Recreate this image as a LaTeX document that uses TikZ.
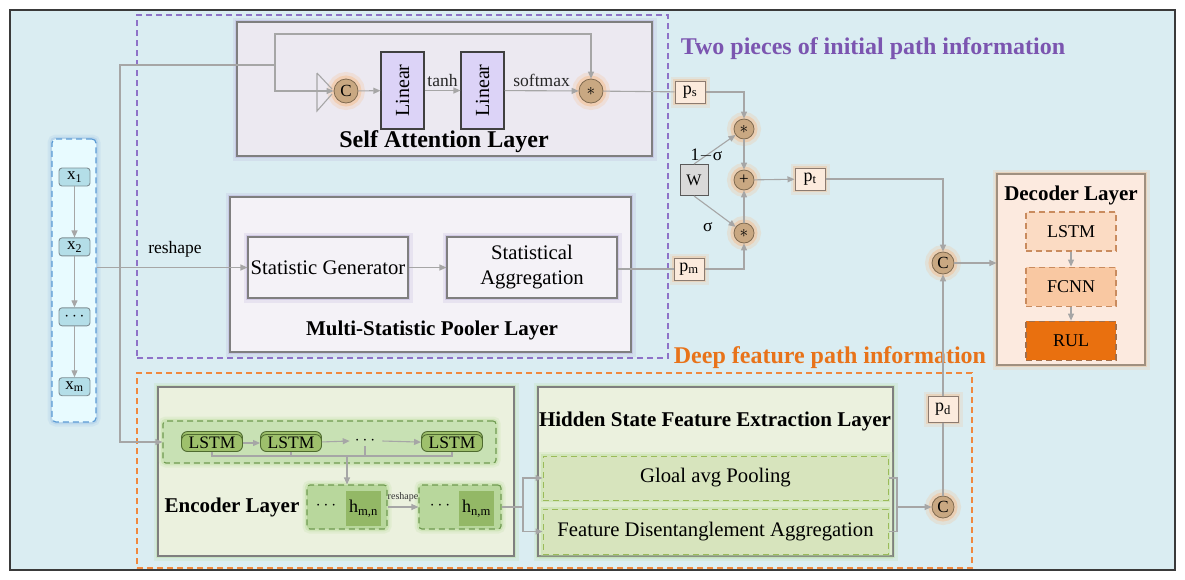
\documentclass[tikz,border=0pt]{standalone}
\usepackage{fontspec}
\setmainfont{Liberation Serif}
\usepackage{graphicx}
\usepackage{xcolor}
\usepackage{tikz}
\usetikzlibrary{arrows.meta,positioning,calc,shadows}

\definecolor{bgblue}{HTML}{DAEDF2}
\definecolor{framegray}{HTML}{3A3A3A}
\definecolor{linegray}{HTML}{A6A6A6}
\definecolor{boxgray}{HTML}{7F7F7F}
\definecolor{grppurple}{HTML}{8E72C8}
\definecolor{grporange}{HTML}{F0883E}
\definecolor{txtpurple}{HTML}{7B55B0}
\definecolor{txtorange}{HTML}{E8731A}
\definecolor{safill}{HTML}{ECE9F1}
\definecolor{saglow}{HTML}{B4A8D8}
\definecolor{poolfill}{HTML}{F4F2F7}
\definecolor{linfill}{HTML}{DCD3F7}
\definecolor{opfill}{HTML}{C9A882}
\definecolor{opborder}{HTML}{7F6A50}
\definecolor{opglow}{HTML}{F5BF90}
\definecolor{pfill}{HTML}{FCEBDD}
\definecolor{pborder}{HTML}{8C7B70}
\definecolor{wfill}{HTML}{D9D9D9}
\definecolor{decfill}{HTML}{FCEADF}
\definecolor{decborder}{HTML}{A09080}
\definecolor{dlstmfill}{HTML}{FBDBC3}
\definecolor{fcnnfill}{HTML}{F9C8A2}
\definecolor{rulfill}{HTML}{E9700F}
\definecolor{decdash}{HTML}{C98B5E}
\definecolor{infill}{HTML}{E8FBFF}
\definecolor{indash}{HTML}{5B9BD5}
\definecolor{xfill}{HTML}{B4DEE8}
\definecolor{xborder}{HTML}{7F8F95}
\definecolor{encfill}{HTML}{EBF1DE}
\definecolor{encglow}{HTML}{B8DC98}
\definecolor{grpfill}{HTML}{C8E1B4}
\definecolor{grpdash}{HTML}{6F9A50}
\definecolor{cellfill}{HTML}{9EC06C}
\definecolor{cellborder}{HTML}{4F6B30}
\definecolor{hfill}{HTML}{B8D79C}
\definecolor{hinner}{HTML}{93B866}
\definecolor{gapfill}{HTML}{D7E4BD}
\definecolor{gapdash}{HTML}{9BBB59}

\begin{document}
\begin{tikzpicture}[x=1pt, y=-1pt,
    >={Triangle[length=7pt,width=6pt]},
    arrow/.style={->, line width=1.1pt, draw=linegray},
    link/.style={line width=1.1pt, draw=linegray},
    glow/.style={preaction={draw=#1, solid, line width=9pt, draw opacity=0.2},
                 preaction={draw=#1, solid, line width=4.5pt, draw opacity=0.4}},
    halo/.style={preaction={draw=#1, solid, line width=14pt, draw opacity=0.25},
                 preaction={draw=#1, solid, line width=7pt, draw opacity=0.5}},
    layer/.style={draw=boxgray, line width=1.1pt, inner sep=0pt},
    grpbox/.style={draw=#1, line width=1.3pt, dash pattern=on 6pt off 4pt, inner sep=0pt},
    bigtitle/.style={font=\fontsize{24}{28}\selectfont\bfseries},
    title/.style={font=\fontsize{21}{24}\selectfont\bfseries},
    label/.style={font=\fontsize{17.5}{20}\selectfont},
    linbox/.style={draw=black!75, fill=linfill, line width=1.1pt,
                   minimum width=43pt, minimum height=77pt, inner sep=0pt,
                   font=\fontsize{20}{22}\selectfont},
    opc/.style={circle, draw=opborder, fill=opfill, halo=opglow, line width=0.8pt,
                minimum size=22pt, inner sep=0pt, font=\fontsize{17}{18}\selectfont},
    pbox/.style={draw=pborder, fill=pfill, glow=opglow, line width=1pt,
                 minimum width=30pt, minimum height=22pt, inner sep=0pt,
                 font=\fontsize{18}{20}\selectfont},
    statbox/.style={draw=boxgray, fill=poolfill, glow=saglow, line width=1.1pt,
                    minimum height=61pt, inner sep=0pt, align=center,
                    font=\fontsize{20.7}{25}\selectfont},
    xnode/.style={draw=xborder, fill=xfill, rounded corners=3pt, line width=0.9pt,
                  minimum width=31pt, minimum height=18pt, inner sep=0pt,
                  font=\fontsize{17}{18}\selectfont},
    decbox/.style={draw=decdash, line width=1.1pt, dash pattern=on 6pt off 4pt,
                   minimum width=90pt, minimum height=39pt, inner sep=0pt,
                   font=\fontsize{18}{20}\selectfont},
    cell/.style={draw=cellborder, fill=cellfill, rounded corners=6pt, line width=0.9pt,
                 minimum width=61pt, minimum height=17pt, inner sep=0pt,
                 copy shadow={shadow xshift=0pt, shadow yshift=3pt},
                 font=\fontsize{17.5}{18}\selectfont},
    hgroup/.style={draw=grpdash, fill=hfill, glow=encglow, rounded corners=3pt,
                   line width=1.1pt, dash pattern=on 6pt off 4pt,
                   minimum height=44pt, inner sep=0pt},
    hcell/.style={fill=hinner, minimum width=35pt, minimum height=35pt, inner sep=0pt,
                  font=\fontsize{18}{20}\selectfont},
    gapbox/.style={draw=gapdash, fill=gapfill, glow=encglow, line width=1pt,
                   dash pattern=on 6pt off 4pt, minimum width=345pt, minimum height=44pt,
                   inner sep=0pt, font=\fontsize{20.7}{24}\selectfont}
]
\useasboundingbox (0,0) rectangle (1185,579);

% frame and the two path groups
\node[draw=framegray, fill=bgblue, line width=1.5pt, minimum width=1165pt,
      minimum height=560pt, inner sep=0pt] (bg) at (592.5,290) {};
\node[grpbox=grppurple, minimum width=531pt, minimum height=343pt] (initgrp) at (402.5,186.5) {};
\node[grpbox=grporange, minimum width=835pt, minimum height=195pt] (deepgrp) at (554.5,470.5) {};
\node[bigtitle, text=txtpurple] (inittitle) at (873,49) {Two pieces of initial path information};
\node[bigtitle, text=txtorange] (deeptitle) at (830,358) {Deep feature path information};

% input sequence
\node[draw=indash, fill=infill, glow=indash!60, rounded corners=4pt, line width=1.2pt,
      dash pattern=on 6pt off 4pt, minimum width=44pt, minimum height=283pt] (input) at (74,280.5) {};
\node[xnode] (x1) at (74.5,177) {x\textsubscript{1}};
\node[xnode, below=51pt of x1] (x2) {x\textsubscript{2}};
\node[xnode, below=51pt of x2] (xdots) {$\cdots$};
\node[xnode, below=51pt of xdots] (xm) {x\textsubscript{m}};
\draw[arrow] (x1) -- (x2);
\draw[arrow] (x2) -- (xdots);
\draw[arrow] (xdots) -- (xm);

% self attention layer
\node[layer, fill=safill, glow=saglow, minimum width=415pt, minimum height=134pt] (salayer) at (444.5,89) {};
\node[bigtitle] (satitle) at (444,142) {Self Attention Layer};
\node[opc, minimum size=24pt] (cat) at (346,91) {C};
\node[linbox] (lin1) at (402.5,90.5) {\rotatebox{90}{Linear}};
\node[linbox] (lin2) at (482.5,90.5) {\rotatebox{90}{Linear}};
\node[opc, minimum size=24pt] (att) at (591,91) {$\ast$};
\coordinate (split) at (120,267);
\coordinate (fork) at (275,65);

\draw[link] ($(cat)+(-29,-18)$) -- ($(cat)+(-29,20)$) -- ($(cat)+(-14,3)$)
            ($(cat)+(-29,-18)$) -- ($(cat)+(-14,-2)$);
\draw[link] (split) |- (fork);
\draw[arrow] (fork) |- (cat.west);
\draw[arrow] (fork) -- (275,34) -| (att.north);
\draw[arrow] (cat) -- (lin1);
\draw[arrow] (lin1) -- node[label, above, text=black!85] {tanh} (lin2);
\draw[arrow] (lin2) -- node[label, above, text=black!85] {softmax} (att);

% multi-statistic pooler layer
\node[layer, fill=poolfill, glow=saglow, minimum width=401pt, minimum height=155pt] (pooler) at (430.5,274.5) {};
\node[statbox, minimum width=160pt] (statgen) at (328,267.5) {Statistic Generator};
\node[statbox, minimum width=170pt] (statagg) at (532,267.5) {Statistical\\Aggregation};
\node[title] (pooltitle) at (432,330) {Multi-Statistic Pooler Layer};
\draw[arrow] (input.east |- statgen) -- node[label, pos=0.52, above=6pt] {reshape} (statgen);
\draw[arrow] (statgen) -- (statagg);

% fusion of the two paths
\node[pbox] (ps) at (690,92) {p\textsubscript{s}};
\node[pbox] (pm) at (689,269) {p\textsubscript{m}};
\node[pbox] (pt) at (810,179) {p\textsubscript{t}};
\node[draw=black!65, fill=wfill, line width=1pt, minimum width=28pt, minimum height=31pt,
      inner sep=0pt, font=\fontsize{16}{18}\selectfont] (w) at (694,180) {W};
\node[opc, minimum size=20pt] (mul1) at (744,129) {$\ast$};
\node[opc, minimum size=20pt] (add) at (744,180) {+};
\node[opc, minimum size=20pt] (mul2) at (744,233) {$\ast$};
\draw[link] (att) -- (ps);
\draw[link] (statagg.east |- pm) -- (pm);
\draw[arrow] (ps.east) -| (mul1.north);
\draw[arrow] (pm.east) -| (mul2.south);
\draw[arrow] (w.north) -- node[label, pos=0.3] {1$-$σ} (mul1);
\draw[arrow] (w.south) -- node[label, pos=0.45, below=9pt, xshift=-5pt] {σ} (mul2);
\draw[arrow] (mul1) -- (add);
\draw[arrow] (mul2) -- (add);
\draw[arrow] (add) -- (pt);

% decoder layer
\node[layer, draw=decborder, fill=decfill, glow=opglow, minimum width=148pt, minimum height=191pt] (decoder) at (1071,269.5) {};
\node[title] (dectitle) at (1071,195) {Decoder Layer};
\node[decbox, fill=dlstmfill] (dlstm) at (1071,231.5) {LSTM};
\node[decbox, fill=fcnnfill, below=15pt of dlstm] (fcnn) {FCNN};
\node[decbox, fill=rulfill, draw=decdash!80!black, below=14pt of fcnn] (rul) {RUL};
\draw[arrow] (dlstm) -- (fcnn);
\draw[arrow] (fcnn) -- (rul);

\node[opc] (cup) at (943,263) {C};
\node[opc] (cdown) at (943,507) {C};
\node[pbox, minimum height=26pt] (pd) at (943,409) {p\textsubscript{d}};
\draw[arrow] (pt.east) -| (cup.north);
\draw[arrow] (pd) -- (cup);
\draw[link] (cdown) -- (pd);
\draw[arrow] (cup) -- (cup -| decoder.west);

% encoder layer
\node[layer, fill=encfill, glow=encglow, minimum width=356pt, minimum height=169pt] (encoder) at (336,471.5) {};
\node[title] (enctitle) at (232,507) {Encoder Layer};
\node[draw=grpdash, fill=grpfill, glow=encglow, rounded corners=3pt, line width=1.1pt,
      dash pattern=on 6pt off 4pt, minimum width=333pt, minimum height=42pt] (lstmgrp) at (329.5,442) {};
\node[cell] (cell1) at (212,443) {LSTM};
\node[cell] (cell2) at (291,443) {LSTM};
\node[font=\fontsize{17}{18}\selectfont, inner sep=1pt] (celldots) at (365,441) {$\cdots$};
\node[cell] (cell3) at (452,443) {LSTM};
\draw[arrow] (split) |- (lstmgrp.west);
\draw[arrow] (cell1) -- (cell2);
\draw[arrow] (cell2) -- ($(celldots.west)+(-4,0)$);
\draw[arrow] ($(celldots.east)+(6,0)$) -- (cell3);
\draw[link] (cell1.south) -- (212,456) -- (452,456) -- (cell3.south);
\draw[link] (cell2.south) -- (291,456);
\draw[link] (celldots.south) -- (365,456);

\node[hgroup, minimum width=80pt] (hmn) at (347,507) {};
\node[hcell] (hmncell) at (363.5,508.5) {h\textsubscript{m,n}};
\node[font=\fontsize{17}{18}\selectfont] (hmndots) at (326,506) {$\cdots$};
\node[hgroup, minimum width=82pt] (hnm) at (460,507) {};
\node[hcell] (hnmcell) at (476.5,508.5) {h\textsubscript{n,m}};
\node[font=\fontsize{17}{18}\selectfont] (hnmdots) at (440,506) {$\cdots$};
\draw[arrow] (347,456) -- (hmn.north);
\draw[arrow] (hmn) -- node[above=1pt, font=\fontsize{10}{11}\selectfont, text=black!80] {reshape} (hnm);

% hidden state feature extraction layer
\node[layer, fill=encfill, glow=encglow, minimum width=355pt, minimum height=169pt] (hidden) at (715.5,471.5) {};
\node[title] (hidtitle) at (715,421) {Hidden State Feature Extraction Layer};
\node[gapbox] (gap) at (715.5,478) {Gloal avg Pooling};
\node[gapbox, minimum height=45pt] (fda) at (715.5,531.5) {Feature Disentanglement Aggregation};
\coordinate (branch) at (523,507);
\coordinate (merge) at (897,507);
\draw[link] (hnm) -- (branch);
\draw[arrow] (branch) |- (gap.west);
\draw[arrow] (branch) |- (fda.west);
\draw[link] (gap.east) -| (merge);
\draw[link] (fda.east) -| (merge);
\draw[arrow] (merge) -- (cdown);

\end{tikzpicture}
\end{document}
